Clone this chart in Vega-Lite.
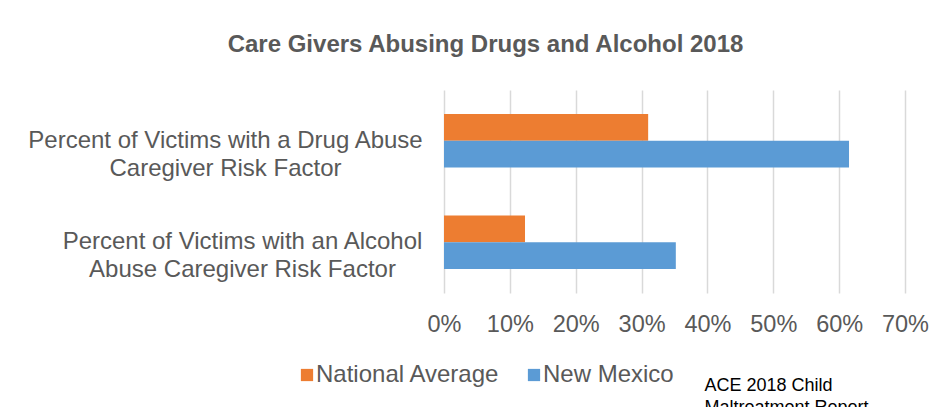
{
  "$schema": "https://vega.github.io/schema/vega-lite/v6.json",
  "width": 461,
  "height": 203,
  "autosize": {"type": "none"},
  "padding": {"left": 444, "top": 90, "right": 43, "bottom": 114},
  "background": "white",
  "title": {
    "text": "Care Givers Abusing Drugs and Alcohol 2018",
    "anchor": "middle",
    "frame": "group",
    "dx": -189,
    "offset": 33,
    "fontSize": 24,
    "fontWeight": "bold",
    "color": "#595959",
    "font": "Liberation Sans"
  },
  "data": {
    "values": [
      {"category": "Percent of Victims with a Drug Abuse|Caregiver Risk Factor", "series": "National Average", "value": 0.31},
      {"category": "Percent of Victims with a Drug Abuse|Caregiver Risk Factor", "series": "New Mexico", "value": 0.615},
      {"category": "Percent of Victims with an Alcohol|Abuse Caregiver Risk Factor", "series": "National Average", "value": 0.123},
      {"category": "Percent of Victims with an Alcohol|Abuse Caregiver Risk Factor", "series": "New Mexico", "value": 0.352}
    ]
  },
  "mark": {"type": "bar"},
  "encoding": {
    "y": {
      "field": "category",
      "type": "nominal",
      "sort": null,
      "scale": {"paddingInner": 0.472, "paddingOuter": 0.236},
      "axis": {
        "title": null,
        "labelExpr": "split(datum.label, '|')",
        "labelAlign": "center",
        "labelPadding": {"condition": {"test": "indexof(datum.value, 'Drug') >= 0", "value": 219}, "value": 202},
        "ticks": false,
        "domain": false,
        "labelFontSize": 24,
        "labelColor": "#595959",
        "labelLineHeight": 28,
        "labelLimit": 0
      }
    },
    "x": {
      "field": "value",
      "type": "quantitative",
      "scale": {"domain": [0, 0.7], "nice": false},
      "axis": {
        "format": ".0%",
        "values": [0, 0.1, 0.2, 0.3, 0.4, 0.5, 0.6, 0.7],
        "labelOverlap": false,
        "labelFlush": false,
        "grid": true,
        "gridColor": "#d9d9d9",
        "gridWidth": 1.5,
        "domain": false,
        "ticks": false,
        "labelFontSize": 23.5,
        "labelColor": "#595959",
        "labelPadding": 19,
        "title": ["ACE 2018 Child", "Maltreatment Report"],
        "titleX": 260,
        "titleY": 97,
        "titleAlign": "left",
        "titleAnchor": null,
        "titleBaseline": "alphabetic",
        "titleFontWeight": "normal",
        "titleFontSize": 18,
        "titleColor": "black",
        "titleLineHeight": 22
      }
    },
    "yOffset": {"field": "series", "sort": null},
    "color": {
      "field": "series",
      "type": "nominal",
      "sort": null,
      "scale": {"range": ["#ED7D31", "#5B9BD5"]},
      "legend": {
        "orient": "none",
        "legendX": -149,
        "legendY": 273,
        "direction": "horizontal",
        "title": null,
        "symbolType": "square",
        "symbolSize": 150,
        "symbolStrokeWidth": 0,
        "labelFontSize": 24,
        "labelColor": "#595959",
        "labelOffset": -3,
        "labelLimit": 0,
        "columnPadding": 22
      }
    }
  },
  "config": {
    "font": "Liberation Sans",
    "view": {"stroke": null}
  }
}
